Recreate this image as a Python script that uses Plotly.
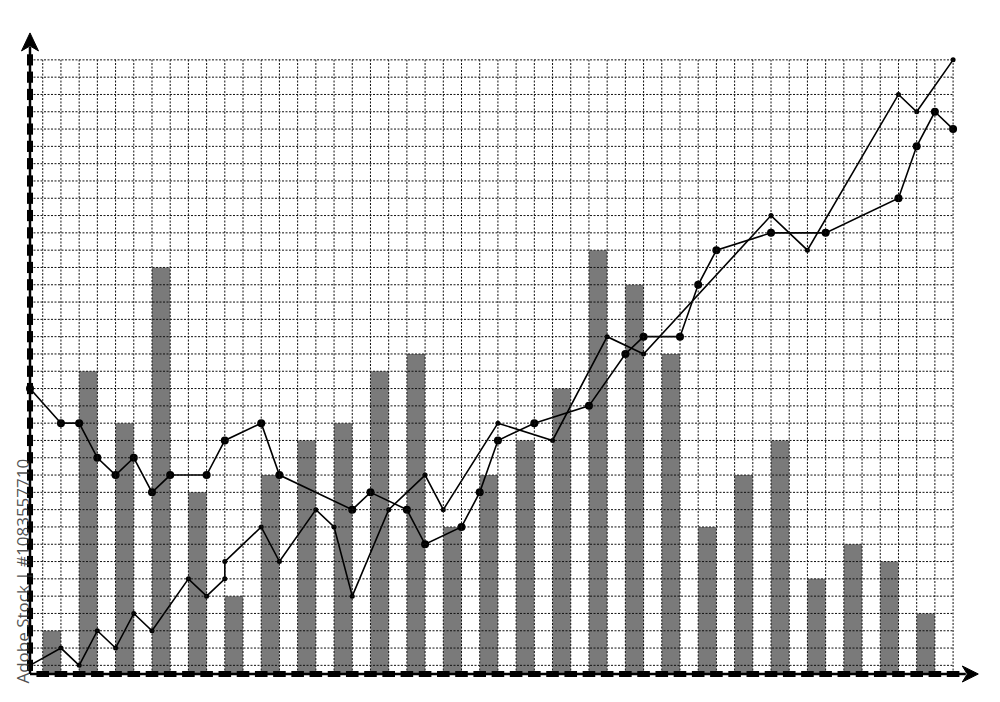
import numpy as np
import plotly.graph_objects as go

# ---- data (grid units) ----
bar_slots = list(range(25))
bar_values = [2, 17, 14, 23, 10, 4, 11, 13, 14, 17, 18, 8, 11, 13, 16, 24, 22, 18, 8, 11, 13, 5, 7, 6, 3]

lineA_x = [-0.7, 1, 2, 3, 4, 5, 6, 7, 9, 10, 12, 13, 17, 18, 20, 21, 23, 24, 25, 27, 30, 32, 33, 35, 36, 37, 40, 43, 47, 48, 49, 50]
lineA_y = [16, 14, 14, 12, 11, 12, 10, 11, 11, 13, 14, 11, 9, 10, 9, 7, 8, 10, 13, 14, 15, 18, 19, 19, 22, 24, 25, 25, 27, 30, 32, 31]

lineB_x = [-0.7, 1, 2, 3, 4, 5, 6, 8, 9, 10, 10, 12, 13, 15, 16, 17, 19, 21, 22, 25, 28, 31, 33, 40, 42, 47, 48, 50]
lineB_y = [0, 1, 0, 2, 1, 3, 2, 5, 4, 5, 6, 8, 6, 9, 8, 4, 9, 11, 9, 14, 13, 19, 18, 26, 24, 33, 32, 35]

watermark = "Adobe Stock | #1083557710"

# ---- layout geometry (page offset of 8px from default body margin) ----
OFF = 8
W, H = 1000 - OFF, 702 - OFF
X_MIN, X_MAX = -0.7, 50.05
Y_MIN, Y_MAX = -0.5, 35.05
ML, MR, MT, MB = 30 - OFF, 45.8, 59.1 - OFF, 27.5
PW = W - ML - MR
PH = H - MT - MB


def px2paper_x(px):
    return (px - OFF - ML) / PW


def px2paper_y(py):
    return (H - MB - (py - OFF)) / PH


fig = go.Figure()

# bars
bar_x = [2 * s + 0.5 for s in bar_slots]
fig.add_trace(go.Bar(
    x=bar_x, y=[v - Y_MIN for v in bar_values], base=Y_MIN, width=1,
    marker=dict(color="#7a7a7a", line=dict(width=0)), hoverinfo="skip"))

# lines
fig.add_trace(go.Scatter(
    x=lineB_x, y=lineB_y, mode="lines+markers", cliponaxis=False,
    line=dict(color="black", width=1.6),
    marker=dict(color="black", size=5)))
fig.add_trace(go.Scatter(
    x=lineA_x, y=lineA_y, mode="lines+markers", cliponaxis=False,
    line=dict(color="black", width=1.6),
    marker=dict(color="black", size=8)))

# axis dashes (thick blocks at each grid line)
gx = np.arange(0, 51)
gy = np.arange(0, 36)
fig.add_trace(go.Scatter(
    x=gx, y=[Y_MIN] * len(gx), mode="markers", cliponaxis=False, hoverinfo="skip",
    marker=dict(symbol="line-ew", size=9, line=dict(color="black", width=6))))
fig.add_trace(go.Scatter(
    x=[-0.7] * len(gy), y=gy, mode="markers", cliponaxis=False, hoverinfo="skip",
    marker=dict(symbol="line-ns", size=8, line=dict(color="black", width=6))))

shapes = []
grid_line = dict(color="#111111", width=1, dash="2px,1.5px")
for k in gx:
    shapes.append(dict(type="line", xref="x", yref="y", x0=k, x1=k, y0=Y_MIN, y1=35,
                       line=grid_line, layer="above"))
for j in gy:
    shapes.append(dict(type="line", xref="x", yref="y", x0=X_MIN, x1=50, y0=j, y1=j,
                       line=grid_line, layer="above"))

# axis lines
ax_y0 = px2paper_y(674.5)
shapes.append(dict(type="line", xref="paper", yref="paper", x0=0, x1=0,
                   y0=ax_y0, y1=px2paper_y(47), line=dict(color="black", width=2.5), layer="above"))
shapes.append(dict(type="line", xref="paper", yref="paper", x0=0, x1=px2paper_x(966),
                   y0=ax_y0, y1=ax_y0, line=dict(color="black", width=2.5), layer="above"))


def path(pts):
    return "M " + " L ".join(f"{px2paper_x(a):.5f},{px2paper_y(b):.5f}" for a, b in pts) + " Z"


shapes.append(dict(type="path", xref="paper", yref="paper",
                   path=path([(30, 33), (21.5, 51), (30, 46), (38.5, 51)]),
                   fillcolor="black", line=dict(color="black", width=1), layer="above"))
shapes.append(dict(type="path", xref="paper", yref="paper",
                   path=path([(978.5, 674.5), (962.5, 666.5), (967.5, 674.5), (962.5, 682.5)]),
                   fillcolor="black", line=dict(color="black", width=1), layer="above"))

fig.update_layout(
    width=W, height=H,
    margin=dict(l=ML, r=MR, t=MT, b=MB, pad=0),
    plot_bgcolor="white", paper_bgcolor="white",
    showlegend=False,
    xaxis=dict(range=[X_MIN, X_MAX], showgrid=False, zeroline=False, showline=False,
               showticklabels=False, ticks="", fixedrange=True),
    yaxis=dict(range=[Y_MIN, Y_MAX], showgrid=False, zeroline=False, showline=False,
               showticklabels=False, ticks="", fixedrange=True),
    shapes=shapes,
    annotations=[dict(text=watermark, xref="paper", yref="paper",
                      x=px2paper_x(23), y=px2paper_y(572), textangle=-90,
                      showarrow=False, xanchor="center", yanchor="middle",
                      font=dict(family="Open Sans", size=17, color="rgba(50,50,50,0.85)"))],
)

fig.write_html("out.html", config={"displayModeBar": False})
